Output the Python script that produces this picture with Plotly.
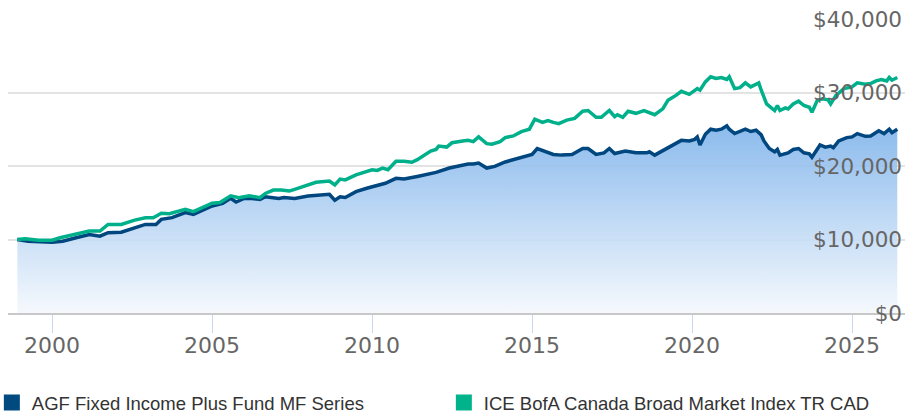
import plotly.graph_objects as go

fund_name = "AGF Fixed Income Plus Fund MF Series"
index_name = "ICE BofA Canada Broad Market Index TR CAD"

fund_dates = [
    "1998-12", "1999-04", "2000-01", "2000-05", "2000-10", "2001-03", "2001-07", "2001-10",
    "2002-03", "2002-08", "2002-12", "2003-04", "2003-06", "2003-10", "2004-03", "2004-06",
    "2005-01", "2005-05", "2005-08", "2005-10", "2006-01", "2006-04", "2006-07", "2006-09",
    "2007-02", "2007-04", "2007-08", "2008-01", "2008-04", "2008-09", "2008-11", "2009-01",
    "2009-03", "2009-07", "2009-11", "2010-02", "2010-06", "2010-10", "2011-01", "2011-06",
    "2011-11", "2012-01", "2012-06", "2012-11", "2013-01", "2013-03", "2013-05", "2013-08",
    "2013-11", "2014-03", "2014-07", "2014-10", "2015-01", "2015-03", "2015-06", "2015-09",
    "2015-12", "2016-04", "2016-08", "2016-10", "2017-01", "2017-04", "2017-06", "2017-08",
    "2017-12", "2018-04", "2018-08", "2018-09", "2018-11", "2019-03", "2019-06", "2019-09",
    "2019-12", "2020-02", "2020-03", "2020-04", "2020-06", "2020-08", "2020-10", "2020-12",
    "2021-02", "2021-03", "2021-05", "2021-07", "2021-09", "2021-11", "2022-01", "2022-03",
    "2022-04", "2022-06", "2022-08", "2022-09", "2022-10", "2023-01", "2023-03", "2023-05",
    "2023-07", "2023-09", "2023-10", "2024-01", "2024-03", "2024-05", "2024-06", "2024-08",
    "2024-11", "2025-01", "2025-03", "2025-06", "2025-08", "2025-11", "2026-01", "2026-03",
    "2026-04", "2026-06",
]
fund_values = [
    10000, 9770, 9630, 9770, 10230, 10680, 10450, 10920,
    11000, 11600, 12050, 12050, 12740, 12970, 13660, 13420,
    14560, 14930, 15600, 15100, 15580, 15580, 15440, 15810,
    15580, 15710, 15580, 15910, 15960, 16140, 15350, 15810,
    15710, 16510, 16970, 17220, 17650, 18320, 18220, 18580,
    19030, 19130, 19730, 20190, 20280, 20280, 20410, 19720,
    19950, 20550, 20960, 21190, 21570, 22380, 22030, 21570,
    21480, 21570, 22380, 22380, 21570, 21790, 22380, 21700,
    22030, 21790, 21790, 21930, 21480, 22250, 22960, 23490,
    23410, 23630, 23960, 22860, 24310, 25010, 24870, 25010,
    25470, 25010, 24410, 24690, 25010, 24690, 24870, 24230,
    23410, 22380, 21930, 22250, 21480, 21790, 22250, 22380,
    21790, 21650, 21190, 22860, 22570, 22710, 22480, 23410,
    23860, 23960, 24410, 24040, 24090, 24790, 24410, 25010,
    24540, 25010,
]

index_dates = [
    "1998-12", "1999-03", "1999-08", "2000-01", "2000-04", "2000-10", "2001-03", "2001-07",
    "2001-10", "2002-03", "2002-08", "2002-12", "2003-03", "2003-06", "2003-09", "2004-03",
    "2004-06", "2005-01", "2005-04", "2005-08", "2005-11", "2006-03", "2006-07", "2006-09",
    "2006-12", "2007-03", "2007-06", "2007-08", "2008-01", "2008-04", "2008-09", "2008-11",
    "2009-01", "2009-03", "2009-07", "2009-11", "2010-01", "2010-03", "2010-05", "2010-07",
    "2010-10", "2011-01", "2011-04", "2011-06", "2011-11", "2012-01", "2012-02", "2012-05",
    "2012-07", "2012-11", "2013-01", "2013-03", "2013-05", "2013-08", "2013-10", "2014-01",
    "2014-03", "2014-06", "2014-09", "2014-12", "2015-02", "2015-05", "2015-07", "2015-09",
    "2015-11", "2016-02", "2016-05", "2016-08", "2016-10", "2017-01", "2017-03", "2017-06",
    "2017-08", "2017-09", "2017-11", "2018-01", "2018-04", "2018-07", "2018-09", "2018-11",
    "2019-02", "2019-04", "2019-07", "2019-09", "2019-12", "2020-01", "2020-03", "2020-04",
    "2020-06", "2020-08", "2020-10", "2020-12", "2021-02", "2021-03", "2021-05", "2021-07",
    "2021-09", "2021-11", "2022-02", "2022-03", "2022-05", "2022-08", "2022-09", "2022-10",
    "2022-12", "2023-01", "2023-03", "2023-05", "2023-07", "2023-09", "2023-10", "2023-12",
    "2024-02", "2024-04", "2024-05", "2024-07", "2024-10", "2025-01", "2025-03", "2025-06",
    "2025-08", "2025-10", "2025-12", "2026-02", "2026-03", "2026-04", "2026-06",
]
index_values = [
    10000, 10100, 9900, 9900, 10230, 10780, 11140, 11140,
    12050, 12050, 12640, 12970, 12970, 13560, 13520, 14110,
    13790, 14930, 15030, 15950, 15690, 15960, 15690, 16270,
    16730, 16730, 16590, 16820, 17420, 17790, 17950, 17420,
    18220, 18110, 18800, 19270, 19490, 19400, 19720, 19490,
    20640, 20640, 20510, 20870, 22030, 22250, 22710, 22570,
    23160, 23410, 23490, 23310, 23960, 23040, 22960, 23310,
    23860, 24090, 24670, 25010, 26380, 25930, 26180, 25930,
    25770, 26250, 26480, 27450, 27550, 26620, 26620, 27550,
    26710, 26980, 26620, 27450, 27170, 27550, 27310, 26980,
    27770, 28930, 29610, 30160, 29750, 30060, 30530, 30310,
    31440, 32140, 31910, 32040, 31770, 32140, 30530, 30660,
    31310, 30760, 31310, 30310, 28450, 27550, 28230, 27550,
    27900, 27770, 28450, 28830, 28230, 27990, 27310, 28930,
    29150, 29000, 28450, 29610, 30530, 30760, 31310, 31130,
    31210, 31580, 31770, 31580, 32040, 31670, 32040,
]

y_ticks = [0, 10000, 20000, 30000, 40000]
y_tick_labels = ["$0", "$10,000", "$20,000", "$30,000", "$40,000"]

fund_color = "#00467f"
index_color = "#00b08b"

fig = go.Figure()

fig.add_trace(go.Scatter(
    x=fund_dates, y=fund_values, mode="lines", name=fund_name,
    line=dict(color=fund_color, width=3.5),
    fill="tozeroy",
    fillgradient=dict(
        type="vertical",
        colorscale=[[0, "rgba(244,248,253,0.9)"], [1, "rgba(60,140,224,0.9)"]],
        start=0, stop=40000,
    ),
    showlegend=False, hoverinfo="skip",
))
fig.add_trace(go.Scatter(
    x=index_dates, y=index_values, mode="lines", name=index_name,
    line=dict(color=index_color, width=3.5),
    showlegend=False, hoverinfo="skip",
))

# legend entries with square swatches
fig.add_trace(go.Scatter(
    x=[None], y=[None], mode="markers", name=fund_name,
    marker=dict(symbol="square", size=16, color="#004a7f"),
))
fig.add_trace(go.Scatter(
    x=[None], y=[None], mode="markers", name=index_name,
    marker=dict(symbol="square", size=16, color="#00b38a"),
))

fig.update_layout(
    width=918, height=416,
    margin=dict(l=8, r=13, t=19, b=103, autoexpand=False),
    paper_bgcolor="white", plot_bgcolor="white",
    font=dict(family="DejaVu Sans", color="#666666"),
    showlegend=True,
    legend=dict(
        orientation="h", x=-0.018, xanchor="left", y=-0.306, yanchor="middle",
        entrywidth=407, entrywidthmode="pixels",
        font=dict(family="Liberation Sans, Arial", size=18.5, color="#333333"),
        bgcolor="rgba(0,0,0,0)", traceorder="normal",
    ),
    xaxis=dict(
        type="date", range=["1998-08-16", "2026-08-28"],
        tick0="2000-01-01", dtick="M60", tickformat="%Y",
        showgrid=False, zeroline=False,
        showline=True, linecolor="#c8c8c8", linewidth=2,
        ticks="outside", ticklen=18, tickcolor="#ccd6eb", tickwidth=1,
        ticklabelstandoff=-6,
        tickfont=dict(size=22, color="#666666", family="DejaVu Sans"),
    ),
    yaxis=dict(
        range=[0, 40000], tickvals=y_ticks, ticktext=y_tick_labels,
        side="right", ticklabelposition="inside", ticklabeloverflow="allow",
        showgrid=True, gridcolor="#e3e3e3", gridwidth=1.5,
        zeroline=False, showline=False, ticks="",
        tickfont=dict(size=21.5, color="#666666", family="DejaVu Sans"),
    ),
)

fig.write_html("out.html", config={"displayModeBar": False},
               post_script="document.body.style.margin='0';")
